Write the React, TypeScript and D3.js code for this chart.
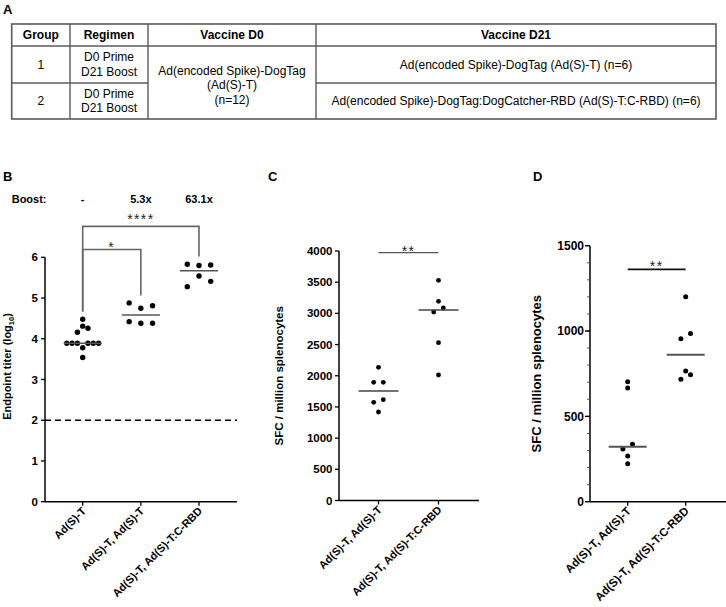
import React from "react";
import * as d3 from "d3";

// ---------- Panel A (table) ----------
const tableHeaders = ["Group", "Regimen", "Vaccine D0", "Vaccine D21"];
const tableGroupIds = ["1", "2"];
const tableRegimenLines = ["D0 Prime", "D21 Boost"];
const tableD0Lines = ["Ad(encoded Spike)-DogTag", "(Ad(S)-T)", "(n=12)"];
const tableD21 = [
  "Ad(encoded Spike)-DogTag (Ad(S)-T) (n=6)",
  "Ad(encoded Spike)-DogTag:DogCatcher-RBD (Ad(S)-T:C-RBD) (n=6)",
];

// ---------- Panel B (endpoint titer, log10) ----------
const bCategories = ["Ad(S)-T", "Ad(S)-T, Ad(S)-T", "Ad(S)-T, Ad(S)-T:C-RBD"];
const bBoostLabels = ["-", "5.3x", "63.1x"];
const bTiterG1 = [4.48, 4.31, 4.26, 4.16, 3.89, 3.89, 3.89, 3.89, 3.89, 3.89, 3.78, 3.54];
const bTiterG2 = [4.88, 4.81, 4.75, 4.42, 4.38, 4.38];
const bTiterG3 = [5.83, 5.81, 5.8, 5.54, 5.41, 5.28];
const bTicks = [0, 1, 2, 3, 4, 5, 6];
const bLimitOfDetection = 2;
const bComparisons = [
  { from: 0, to: 1, label: "*" },
  { from: 0, to: 2, label: "****" },
];

// ---------- Panel C (SFC) ----------
const cCategories = ["Ad(S)-T, Ad(S)-T", "Ad(S)-T, Ad(S)-T:C-RBD"];
const cSfcG1 = [2135, 1895, 1895, 1617, 1574, 1419];
const cSfcG2 = [3530, 3193, 3086, 3022, 2530, 2012];
const cTicks = [0, 500, 1000, 1500, 2000, 2500, 3000, 3500, 4000];
const cSignificance = "**";

// ---------- Panel D (SFC) ----------
const dCategories = ["Ad(S)-T, Ad(S)-T", "Ad(S)-T, Ad(S)-T:C-RBD"];
const dSfcG1 = [703, 666, 336, 309, 268, 223];
const dSfcG2 = [1201, 986, 955, 766, 744, 717];
const dTicks = [0, 500, 1000, 1500];
const dSignificance = "**";

const FONT = "'Liberation Sans', Arial, Helvetica, sans-serif";

type Pt = { v: number; py: number; dx: number };

// GraphPad-like row scatter: values close in height share a row and spread symmetrically
function swarm(values: number[], y: (v: number) => number, step: number, tol = 6): Pt[] {
  const pts = values.map((v) => ({ v, py: y(v), dx: 0 })).sort((a, b) => a.v - b.v);
  const rows: Pt[][] = [];
  let cur: Pt[] | null = null;
  for (const p of pts) {
    if (cur && Math.abs(p.py - cur[0].py) <= tol) cur.push(p);
    else {
      cur = [p];
      rows.push(cur);
    }
  }
  rows.forEach((row) => {
    const k = row.length;
    row.forEach((p, i) => {
      let slot: number;
      if (k % 2 === 1) slot = i === 0 ? 0 : i % 2 === 1 ? (i + 1) / 2 : -i / 2;
      else {
        const m = Math.floor(i / 2) + 1;
        slot = i % 2 === 0 ? -m : m;
      }
      p.dx = slot * step;
    });
  });
  return pts;
}

function Group({
  values, cx, y, step, r, half, medColor, medWidth,
}: {
  values: number[]; cx: number; y: d3.ScaleLinear<number, number>; step: number; r: number;
  half: number; medColor: string; medWidth: number;
}) {
  const pts = swarm(values, y, step);
  const med = d3.median(values) as number;
  return (
    <g>
      {pts.map((p, i) => (
        <circle key={i} cx={cx + p.dx} cy={p.py} r={r} fill="#000" />
      ))}
      <line x1={cx - half} x2={cx + half} y1={y(med)} y2={y(med)} stroke={medColor} strokeWidth={medWidth} />
    </g>
  );
}

function CatLabels({ cats, x, y0, size }: { cats: string[]; x: d3.ScalePoint<string>; y0: number; size: number }) {
  return (
    <g>
      {cats.map((c) => (
        <g key={c}>
          <line x1={x(c)} x2={x(c)} y1={y0} y2={y0 + 4} stroke="#000" strokeWidth={1.3} />
          <text
            transform={`translate(${(x(c) as number) + 4},${y0 + 10}) rotate(-45)`}
            textAnchor="end"
            fontSize={size}
            fontWeight="bold"
            fontFamily={FONT}
          >
            {c}
          </text>
        </g>
      ))}
    </g>
  );
}

export default function App() {
  // ---------- Table ----------
  const cols = [11.7, 70, 148, 316, 716];
  const rows = [24, 46, 83, 119];
  const tStroke = "#5a5a5a";
  const colMid = (i: number) => (cols[i] + cols[i + 1]) / 2;

  // ---------- Panel B ----------
  const bY = d3.scaleLinear().domain([0, 6]).range([501.7, 257.3]);
  const bX = d3.scalePoint<string>().domain(bCategories).range([82.7, 199]);
  const bAxisX0 = 45;
  const bAxisX1 = 237;
  const bData = [bTiterG1, bTiterG2, bTiterG3];
  const bSteps = [5.3, 11.7, 11.7];
  const bracketTop = [6.19, 6.76];
  const bracketGap = [2, 6];
  const bracketBottomLeft = 4.67;
  const bracketBottomRight = [5.06, 6.02];

  // ---------- Panel C ----------
  const cY = d3.scaleLinear().domain([0, 4000]).range([500.5, 251]);
  const cX = d3.scalePoint<string>().domain(cCategories).range([378.5, 438.5]);
  const cAxisX0 = 339;
  const cAxisX1 = 479;

  // ---------- Panel D ----------
  const dY = d3.scaleLinear().domain([0, 1500]).range([501.7, 245.7]);
  const dX = d3.scalePoint<string>().domain(dCategories).range([627.7, 685.7]);
  const dAxisX0 = 590;
  const dAxisX1 = 726;
  const dMinor = dY.ticks(15);

  const starStyle = { fontSize: 14, letterSpacing: 1.4, fill: "#222" } as const;

  return (
    <svg
      width={726}
      height={607}
      viewBox="0 0 726 607"
      style={{ position: "absolute", left: 0, top: 0, background: "#fff" }}
      fontFamily={FONT}
    >
      <rect x={0} y={0} width={726} height={607} fill="#fff" />

      {/* Panel letters */}
      <text x={3} y={14} fontSize={13} fontWeight="bold">A</text>
      <text x={3} y={181} fontSize={13} fontWeight="bold">B</text>
      <text x={268} y={181} fontSize={13} fontWeight="bold">C</text>
      <text x={533} y={181} fontSize={13} fontWeight="bold">D</text>

      {/* ---------- Table ---------- */}
      <g>
        <rect x={cols[0]} y={rows[0]} width={cols[4] - cols[0]} height={rows[3] - rows[0]} fill="none" stroke={tStroke} strokeWidth={1.6} />
        {[1, 2, 3].map((i) => (
          <line key={i} x1={cols[i]} x2={cols[i]} y1={rows[0]} y2={rows[3]} stroke={tStroke} strokeWidth={1.4} />
        ))}
        <line x1={cols[0]} x2={cols[4]} y1={rows[1]} y2={rows[1]} stroke={tStroke} strokeWidth={1.4} />
        <line x1={cols[0]} x2={cols[2]} y1={rows[2]} y2={rows[2]} stroke={tStroke} strokeWidth={1.4} />
        <line x1={cols[3]} x2={cols[4]} y1={rows[2]} y2={rows[2]} stroke={tStroke} strokeWidth={1.4} />
        {tableHeaders.map((h, i) => (
          <text key={h} x={colMid(i)} y={39} textAnchor="middle" fontSize={12} fontWeight="bold">{h}</text>
        ))}
        {tableGroupIds.map((g, i) => (
          <g key={g}>
            <text x={colMid(0)} y={(rows[i + 1] + rows[i + 2]) / 2 + 4.3} textAnchor="middle" fontSize={12}>{g}</text>
            {tableRegimenLines.map((l, j) => (
              <text key={l} x={colMid(1)} y={(rows[i + 1] + rows[i + 2]) / 2 - 3.5 + j * 14.5} textAnchor="middle" fontSize={12}>{l}</text>
            ))}
            <text x={colMid(3)} y={(rows[i + 1] + rows[i + 2]) / 2 + 4.3} textAnchor="middle" fontSize={12}>{tableD21[i]}</text>
          </g>
        ))}
        {tableD0Lines.map((l, j) => (
          <text key={l} x={colMid(2)} y={(rows[1] + rows[3]) / 2 - 7.5 + j * 14.3} textAnchor="middle" fontSize={12}>{l}</text>
        ))}
      </g>

      {/* ---------- Panel B ---------- */}
      <g>
        <text x={11.7} y={203} fontSize={11} fontWeight="bold">Boost:</text>
        {bCategories.map((c, i) => (
          <text key={c} x={bX(c)} y={203} textAnchor="middle" fontSize={11} fontWeight="bold">{bBoostLabels[i]}</text>
        ))}
        {/* dashed limit line */}
        <line x1={bAxisX0} x2={bAxisX1} y1={bY(bLimitOfDetection)} y2={bY(bLimitOfDetection)} stroke="#000" strokeWidth={1.6} strokeDasharray="6,4" />
        {/* axes */}
        <line x1={bAxisX0} x2={bAxisX0} y1={bY(6)} y2={bY(0)} stroke="#000" strokeWidth={1.5} />
        <line x1={bAxisX0} x2={bAxisX1} y1={bY(0)} y2={bY(0)} stroke="#000" strokeWidth={1.5} />
        {bTicks.map((t) => (
          <g key={t}>
            <line x1={bAxisX0 - 4} x2={bAxisX0} y1={bY(t)} y2={bY(t)} stroke="#000" strokeWidth={1.3} />
            <text x={bAxisX0 - 7} y={bY(t) + 4} textAnchor="end" fontSize={11.5} fontWeight="bold">{t}</text>
          </g>
        ))}
        <text transform={`translate(11,${(bY(0) + bY(6)) / 2 - 13}) rotate(-90)`} textAnchor="middle" fontSize={11} fontWeight="bold">
          Endpoint titer (log<tspan fontSize={7.5} dy={3}>10</tspan><tspan dy={-3}>)</tspan>
        </text>
        <CatLabels cats={bCategories} x={bX} y0={bY(0)} size={11} />
        {bData.map((vals, i) => (
          <Group key={i} values={vals} cx={bX(bCategories[i]) as number} y={bY} step={bSteps[i]} r={2.7} half={19} medColor="#555" medWidth={1.5} />
        ))}
        {bComparisons.map((cmp, i) => {
          const x1 = bX(bCategories[cmp.from]) as number;
          const x2 = bX(bCategories[cmp.to]) as number;
          const top = bY(bracketTop[i]);
          return (
            <g key={i}>
              <path
                d={`M${x1},${bY(bracketBottomLeft)}V${top}H${x2}V${bY(bracketBottomRight[i])}`}
                fill="none"
                stroke="#666"
                strokeWidth={1.6}
              />
              <text x={(x1 + x2) / 2} y={top - bracketGap[i] + 4} textAnchor="middle" {...starStyle}>{cmp.label}</text>
            </g>
          );
        })}
      </g>

      {/* ---------- Panel C ---------- */}
      <g>
        <line x1={cAxisX0} x2={cAxisX0} y1={cY(4000)} y2={cY(0)} stroke="#000" strokeWidth={1.5} />
        <line x1={cAxisX0} x2={cAxisX1} y1={cY(0)} y2={cY(0)} stroke="#000" strokeWidth={1.5} />
        {cTicks.map((t) => (
          <g key={t}>
            <line x1={cAxisX0 - 4} x2={cAxisX0} y1={cY(t)} y2={cY(t)} stroke="#000" strokeWidth={1.3} />
            <text x={cAxisX0 - 6.5} y={cY(t) + 4} textAnchor="end" fontSize={11.5} fontWeight="bold">{t}</text>
          </g>
        ))}
        <text transform={`translate(283,${(cY(0) + cY(4000)) / 2}) rotate(-90)`} textAnchor="middle" fontSize={11.5} fontWeight="bold">
          SFC / million splenocytes
        </text>
        <CatLabels cats={cCategories} x={cX} y0={cY(0)} size={11} />
        {[cSfcG1, cSfcG2].map((vals, i) => (
          <Group key={i} values={vals} cx={cX(cCategories[i]) as number} y={cY} step={4.8} r={2.4} half={20} medColor="#444" medWidth={1.4} />
        ))}
        <line x1={cX(cCategories[0])} x2={cX(cCategories[1])} y1={cY(3975)} y2={cY(3975)} stroke="#555" strokeWidth={1.3} />
        <text x={((cX(cCategories[0]) as number) + (cX(cCategories[1]) as number)) / 2} y={cY(3975) + 3} textAnchor="middle" {...starStyle}>{cSignificance}</text>
      </g>

      {/* ---------- Panel D ---------- */}
      <g>
        <line x1={dAxisX0} x2={dAxisX0} y1={dY(1500)} y2={dY(0)} stroke="#000" strokeWidth={1.5} />
        <line x1={dAxisX0} x2={dAxisX1} y1={dY(0)} y2={dY(0)} stroke="#000" strokeWidth={1.5} />
        {dMinor.map((t) => (
          <line key={t} x1={dAxisX0 - 3} x2={dAxisX0} y1={dY(t)} y2={dY(t)} stroke="#555" strokeWidth={1} />
        ))}
        {dTicks.map((t) => (
          <g key={t}>
            <line x1={dAxisX0 - 5} x2={dAxisX0} y1={dY(t)} y2={dY(t)} stroke="#000" strokeWidth={1.4} />
            <text x={dAxisX0 - 6} y={dY(t) + 4.3} textAnchor="end" fontSize={12} fontWeight="bold">{t}</text>
          </g>
        ))}
        <text transform={`translate(541,${(dY(0) + dY(1500)) / 2}) rotate(-90)`} textAnchor="middle" fontSize={13} fontWeight="bold">
          SFC / million splenocytes
        </text>
        <CatLabels cats={dCategories} x={dX} y0={dY(0)} size={11.5} />
        {[dSfcG1, dSfcG2].map((vals, i) => (
          <Group key={i} values={vals} cx={dX(dCategories[i]) as number} y={dY} step={4.8} r={2.5} half={19} medColor="#555" medWidth={2} />
        ))}
        <line x1={dX(dCategories[0])} x2={dX(dCategories[1])} y1={dY(1361)} y2={dY(1361)} stroke="#111" strokeWidth={1.8} />
        <text x={((dX(dCategories[0]) as number) + (dX(dCategories[1]) as number)) / 2} y={dY(1361) + 2} textAnchor="middle" {...starStyle}>{dSignificance}</text>
      </g>
    </svg>
  );
}
